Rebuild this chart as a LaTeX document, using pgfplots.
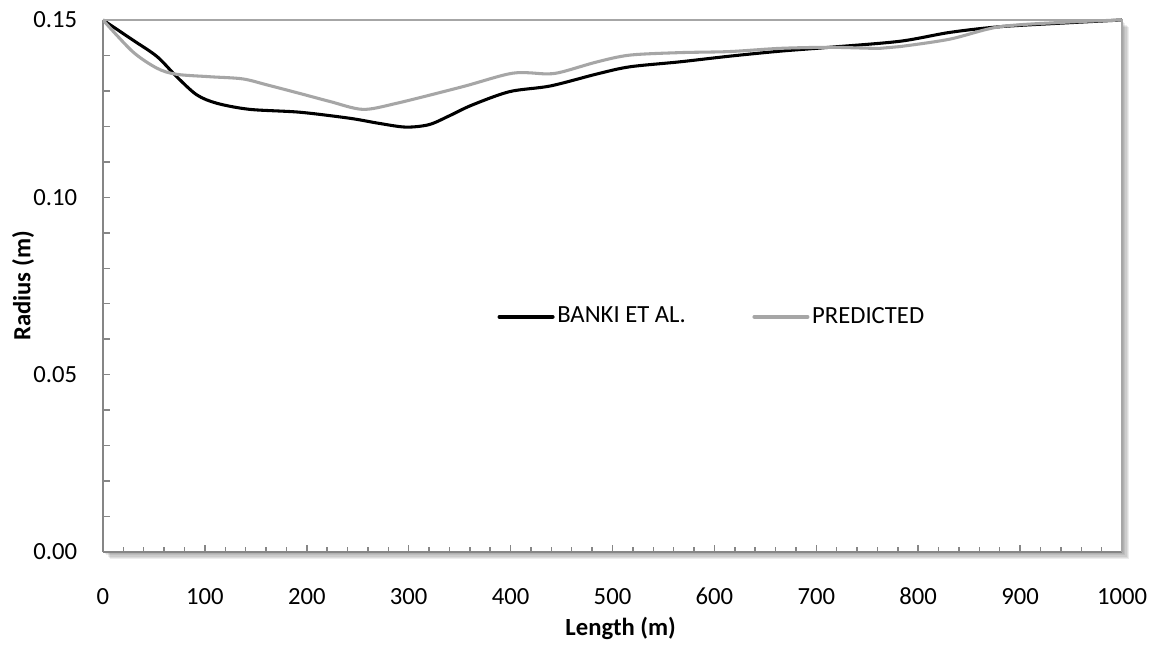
\documentclass[border=0pt]{standalone}
\usepackage{pgfplots}
\pgfplotsset{compat=1.18}
\usepackage{fontspec}
\setmainfont{Carlito}
\definecolor{axgray}{HTML}{868686}
\definecolor{predgray}{HTML}{A6A6A6}
\newcommand{\chartfont}{\fontsize{18.5}{22}\selectfont}

\pgfplotstableread{
x y
0 0.1500
29 0.1444
53 0.1397
72 0.1341
92 0.1289
112 0.1265
144 0.1248
193 0.1240
242 0.1223
270 0.1209
297 0.1198
320 0.1205
340 0.1230
362 0.1260
399 0.1298
439 0.1314
485 0.1348
517 0.1368
566 0.1382
615 0.1398
664 0.1412
713 0.1423
782 0.1440
831 0.1465
880 0.1481
946 0.1492
1000 0.1500
}\banki

\pgfplotstableread{
x y
0 0.1500
29 0.1411
53 0.1364
72 0.1347
105 0.1340
137 0.1334
161 0.1317
193 0.1293
223 0.1270
255 0.1248
288 0.1265
353 0.1312
402 0.1350
436 0.1348
451 0.1354
485 0.1382
517 0.1401
566 0.1408
615 0.1411
664 0.1420
713 0.1423
762 0.1420
782 0.1425
831 0.1446
880 0.1481
946 0.1494
1000 0.1500
}\pred

\begin{document}
\chartfont
\begin{tikzpicture}[font=\chartfont]
\useasboundingbox (-77.25pt,-78pt) rectangle (788.25pt,414pt);
% shadow
\foreach \i in {1,...,5}{
  \fill[black, opacity=0.07] (\i*0.8pt+1pt,-\i*0.8pt-1pt) rectangle (764.25pt+\i*0.8pt+1pt,399pt-\i*0.8pt-1pt);
}
\begin{axis}[
  at={(0,0)}, anchor=south west,
  scale only axis, width=764.25pt, height=399pt,
  xmin=0, xmax=1000, ymin=0, ymax=0.15,
  axis lines=left,
  axis line style={-, axgray, line width=1.6pt},
  axis background/.style={fill=white},
  tick align=inside,
  xtick={0,100,200,300,400,500,600,700,800,900,1000},
  xticklabels={0,100,200,300,400,500,600,700,800,900,1000},
  minor x tick num=4,
  ytick={0,0.01,0.02,0.03,0.04,0.05,0.06,0.07,0.08,0.09,0.10,0.11,0.12,0.13,0.14,0.15},
  yticklabels={0.00,,,,,0.05,,,,,0.10,,,,,0.15},
  major tick length=5.5pt, minor tick length=4pt,
  tick style={axgray, line width=1.1pt},
  tick label style={font=\chartfont},
  xticklabel style={anchor=base, yshift=-39.5pt},
  yticklabel style={xshift=-13pt},
  clip=false,
  xlabel={\textbf{Length (m)}},
  ylabel={\textbf{Radius (m)}},
  every axis x label/.style={at={(axis description cs:0.508,-0.1429)}, anchor=center, font=\chartfont},
  every axis y label/.style={at={(axis description cs:-0.0785,0.5)}, rotate=90, anchor=center, font=\chartfont},
  legend columns=2,
  legend style={at={(0.383,0.442)}, anchor=west, draw=none, fill=none, font=\chartfont,
    /tikz/every even column/.append style={column sep=48pt}},
  legend image code/.code={\draw[#1, line width=2.8pt, line cap=round] (0pt,0pt) -- (40pt,0pt);},
  legend cell align=left,
]
\addplot[black, line width=2.3pt, smooth, tension=0.5] table[x=x,y=y] {\banki};
\addlegendentry{BANKI ET AL.}
\addplot[predgray, line width=2.3pt, smooth, tension=0.5] table[x=x,y=y] {\pred};
\addlegendentry{PREDICTED}
\draw[gray!70, line width=0.8pt] (rel axis cs:0,1) -- (rel axis cs:1,1) -- (rel axis cs:1,0);
\end{axis}
\end{tikzpicture}
\end{document}
